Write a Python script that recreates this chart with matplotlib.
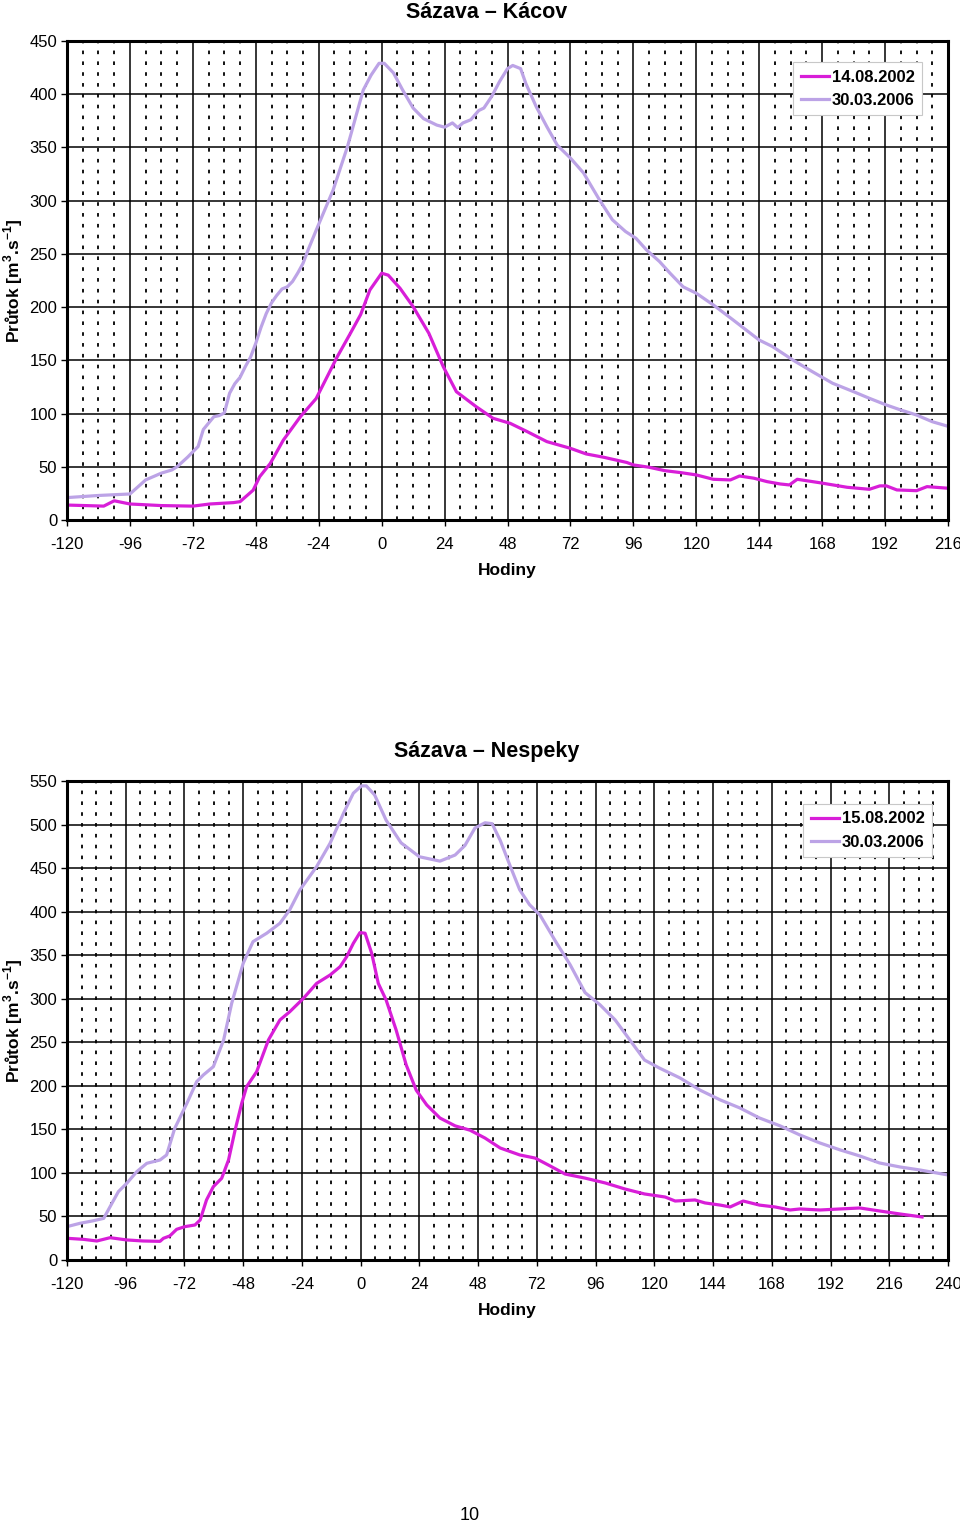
import matplotlib
matplotlib.use("Agg")
import matplotlib.pyplot as plt
from matplotlib.ticker import MultipleLocator

plt.rcParams['font.family'] = ['Liberation Sans', 'DejaVu Sans']
plt.rcParams['mathtext.fontset'] = 'custom'
plt.rcParams['mathtext.rm'] = 'Liberation Sans'
plt.rcParams['mathtext.bf'] = 'Liberation Sans:bold'
plt.rcParams['axes.unicode_minus'] = False

# ---------------- data: Sázava – Kácov ----------------
kacov_2006_h = [-120, -108, -96, -90, -84, -80, -78, -74, -72, -70, -68, -66, -64, -62, -60,
                -58, -56, -54, -52, -50, -48, -46, -44, -42, -40, -38, -36, -34, -32, -30,
                -28, -25, -18.5, -13, -9.5, -7, -4, -1, 1, 4.5, 8, 12, 16, 21, 24, 27, 29,
                31, 34, 37, 39, 42, 45, 48, 50, 53, 55, 59, 63, 67, 72, 77, 83, 88, 93, 97,
                101, 106, 110, 115, 120, 126.5, 134, 139, 144, 149, 157, 164.5, 172, 180,
                186, 192.5, 198, 204, 210, 216]
kacov_2006_q = [21, 23, 24.4, 37.6, 44, 47, 50, 59, 64, 69, 85, 91, 97, 98, 100.5,
                119, 128, 134, 144, 153, 166, 181, 194, 204, 211, 217, 219, 224, 232, 241,
                254, 272, 310, 351, 382, 404, 418, 429, 429, 420, 404, 387, 377, 371, 369, 373, 368.6,
                373, 376, 384.6, 387, 398, 412, 424, 427, 424, 410, 388, 369.5, 352, 340, 326, 301, 282, 271, 264.6,
                253.7, 242.7, 231.8, 219, 213, 202, 188, 178.5, 169, 163, 150, 139, 128.4, 120.5,
                114.3, 108, 103.3, 98.6, 92.3, 88]

kacov_2002_h = [-120, -106, -102, -96, -84, -72, -65.5, -56.5, -54, -49, -46.5, -42.5, -37.5,
                -31, -25, -17, -12, -8, -4.5, 0, 2.5, 7, 12, 18, 23.5, 28.5, 36, 42.5, 49,
                55.5, 63, 72, 78, 84.5, 93.5, 96, 102, 108, 114, 120, 126.5, 133, 136.5, 142,
                147, 152, 155.5, 158.5, 167, 177.5, 186, 190, 192.5, 196.5, 204, 208, 216]
kacov_2002_q = [14, 13, 18, 15, 13.5, 13, 15, 16.3, 17.2, 28, 40.7, 53, 75,
                97, 114, 153, 175, 193, 216, 231.8, 230, 217.7, 200.4, 175.4, 144, 120.5, 106.5, 95.5, 90.8,
                83, 73.6, 67.3, 62, 59, 54, 51.7, 49.5, 46.3, 44.5, 42.3, 38.2, 37.6, 41.3, 39.2,
                36, 33.8, 32.9, 38.2, 35, 30.7, 28.8, 32, 32, 28.2, 27.5, 31.3, 29.8]

# ---------------- data: Sázava – Nespeky ----------------
nespeky_2006_h = [-120, -114.7, -109.3, -105, -102.4, -99, -95.6, -91.5, -87.4, -82, -79.3, -76,
                  -71, -67, -64.3, -60.2, -56, -52.7, -48, -44, -38.4, -33, -29, -24.8, -18,
                  -12.5, -7, -3, 0.3, 2.3, 5.7, 10.4, 16.5, 24, 32.4, 38.6, 42.6, 46.7, 50.8,
                  53.7, 57, 61, 65, 69, 73.3, 79.4, 85.6, 91.7, 97.8, 104, 110, 116, 122,
                  130.5, 138.7, 147, 155, 163, 171.4, 179.5, 187.7, 196, 204, 212, 220.4,
                  228.6, 240]
nespeky_2006_q = [38.3, 42.1, 45, 47.8, 61.2, 78.5, 88, 101.4, 111, 114.8, 120.6, 151,
                  180, 204.8, 212.4, 222, 252.6, 294.8, 340.7, 365.5, 375.2, 386.6, 402, 425, 451.7,
                  478.5, 513, 536, 544.4, 544.4, 534, 505, 479, 463, 458, 465, 476, 496, 502,
                  501, 482, 453, 425, 408, 396, 367, 339, 307, 293, 275.6, 252.6, 229.6, 220.5,
                  209, 195, 183.7, 174.5, 163, 154, 143.5, 134.3, 126.3, 119.4, 111.4, 106.8,
                  103.3, 97.6]

nespeky_2002_h = [-120, -113.3, -107.8, -102.4, -95.6, -88.8, -82, -80.6, -78, -75.2, -71.8,
                  -67.7, -65.6, -63, -60.2, -56.8, -54, -51.3, -48.6, -46.6, -42.5, -37.7, -33,
                  -29, -23.4, -18, -12.5, -8.4, -5.7, -3, -0.3, 1.8, 4.5, 7.2, 10.4, 14.5, 18.6,
                  22.7, 27, 32.4, 38.6, 44.7, 50.8, 57, 65, 71.3, 77.4, 83.5, 91.7, 100, 108,
                  116, 124.4, 128.5, 136.6, 140.7, 147, 151, 156.3, 163, 169.3, 175.5, 179.5,
                  187.7, 196, 204, 212, 220.4, 229.4]
nespeky_2002_q = [24.9, 23.7, 21.8, 25.6, 23, 21.8, 21.4, 24.9, 27.6, 35.2, 38.3,
                  40.2, 45.9, 68.9, 84.2, 93.8, 114.8, 149.3, 180, 199, 216.2, 252.6, 275.6,
                  285, 300.4, 317.6, 327.2, 336.8, 348.3, 363.6, 375.9, 375.2, 352.2, 317.6, 298.5, 264, 224,
                  195, 178, 163, 154, 149, 140, 128.6, 120.6, 117, 108, 98.7, 94, 88.4, 81.5,
                  75.8, 72.3, 67.7, 68.9, 65.5, 63, 60.9, 67.7, 63, 60.9, 57.4, 58.6,
                  57.4, 58.6, 59.7, 56.3, 52.8, 49.4]

C2002 = '#D81ED8'
C2006 = '#BCA3E6'

fig = plt.figure(figsize=(9.6, 15.23), dpi=100)

def make_axes(rect, xmax, ymax, title, title_y, lab_2002, h02, q02, h06, q06, leg_anchor):
    ax = fig.add_axes(rect)
    ax.set_xlim(-120, xmax)
    ax.set_ylim(0, ymax)
    ax.xaxis.set_major_locator(MultipleLocator(24))
    ax.xaxis.set_minor_locator(MultipleLocator(6))
    ax.yaxis.set_major_locator(MultipleLocator(50))
    ax.grid(which='major', axis='both', color='black', linewidth=1.1, linestyle='-')
    ax.grid(which='minor', axis='x', color='black', linewidth=1.3, linestyle=(0, (2, 4)))
    ax.set_axisbelow(True)
    for s in ax.spines.values():
        s.set_linewidth(2.2)
        s.set_zorder(5)
    ax.tick_params(axis='y', which='major', labelsize=12, length=4, width=1,
                   direction='out', pad=3)
    ax.tick_params(axis='x', which='major', labelsize=12, length=4, width=1,
                   direction='out', pad=8)
    ax.tick_params(axis='both', which='minor', length=0)
    ax.plot(h02, q02, color=C2002, linewidth=2.3, label=lab_2002, zorder=3)
    ax.plot(h06, q06, color=C2006, linewidth=2.3, label='30.03.2006', zorder=3)
    leg = ax.legend(loc='upper right', bbox_to_anchor=leg_anchor, frameon=True,
                    fancybox=False, framealpha=1, edgecolor='#C8C8C8',
                    prop={'weight': 'bold', 'size': 12}, handlelength=1.7,
                    handletextpad=0.15, borderpad=0.45, labelspacing=0.5,
                    borderaxespad=0)
    leg.get_frame().set_linewidth(0.8)
    ax.set_xlabel('Hodiny', fontsize=12.5, fontweight='bold', labelpad=8)
    ax.set_ylabel(r'Průtok [m$^{\mathbf{3}}$.s$^{\mathbf{-1}}$]', fontsize=12.5,
                  fontweight='bold')
    ax.yaxis.set_label_coords(-0.048, 0.5)
    fig.text(0.507, title_y, title, ha='center', va='center', fontsize=15.5,
             fontweight='bold')
    return ax

make_axes([0.0698, 0.6586, 0.9177, 0.3145], 216, 450, 'Sázava – Kácov', 1 - 12 / 1523,
          '14.08.2002', kacov_2002_h, kacov_2002_q, kacov_2006_h, kacov_2006_q,
          (0.9705, 0.956))
make_axes([0.0698, 0.1727, 0.9177, 0.3145], 240, 550, 'Sázava – Nespeky', 1 - 751 / 1523,
          '15.08.2002', nespeky_2002_h, nespeky_2002_q, nespeky_2006_h, nespeky_2006_q,
          (0.982, 0.952))

fig.text(470 / 960, 1 - 1515 / 1523, '10', ha='center', va='center', fontsize=13)

fig.savefig('out.png', dpi=100)
